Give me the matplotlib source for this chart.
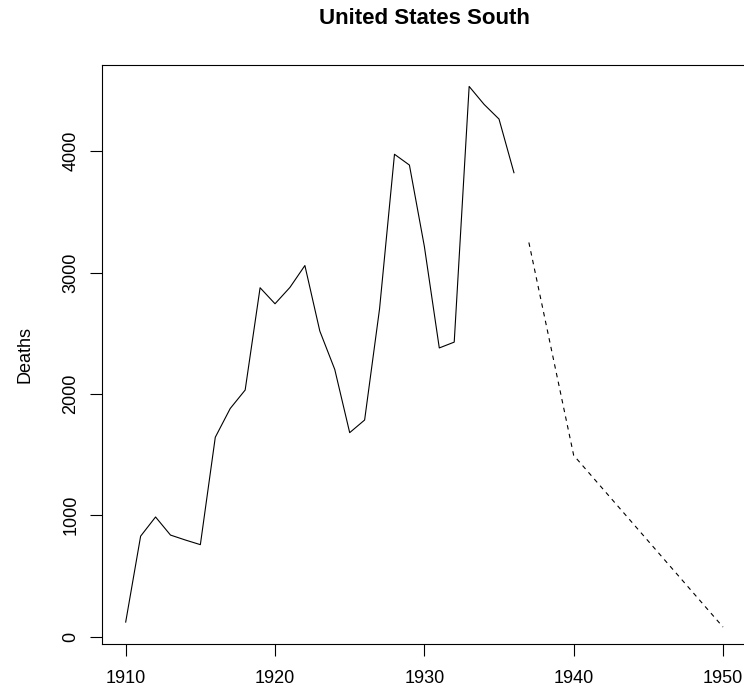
import matplotlib
matplotlib.use("Agg")
import matplotlib.pyplot as plt
import numpy as np

plt.rcParams['font.family'] = ['Liberation Sans', 'DejaVu Sans']

# Recorded lynching deaths, South region
years_obs = [1910, 1911, 1912, 1913, 1914, 1915, 1916, 1917, 1918, 1919,
             1920, 1921, 1922, 1923, 1924, 1925, 1926, 1927, 1928, 1929,
             1930, 1931, 1932, 1933, 1934, 1935, 1936]
deaths_obs = [120, 828, 986, 837, 796, 758, 1643, 1880, 2032, 2875,
              2743, 2878, 3058, 2518, 2202, 1681, 1785, 2701, 3975, 3886,
              3216, 2379, 2427, 4534, 4386, 4265, 3823]

# Projected trend (dashed)
years_proj = [1937, 1940, 1950]
deaths_proj = [3248, 1494, 79]

x_ticks = [1910, 1920, 1930, 1940, 1950]
y_ticks = [0, 1000, 2000, 3000, 4000]

W, H = 744, 687
fig = plt.figure(figsize=(W / 100, H / 100), dpi=100)

# plot region in pixels (R-style layout, right edge runs past the canvas)
left, right, top, bottom = 101.8, 746.9, 65.0, 643.5
ax = fig.add_axes([left / W, 1 - bottom / H, (right - left) / W, (bottom - top) / H])

ax.plot(years_obs, deaths_obs, color='black', lw=0.8)
ax.plot(years_proj, deaths_proj, color='black', lw=0.8, ls=(0, (4, 4)))

# R default 4% axis expansion
xmin, xmax = 1910, 1950
xr = xmax - xmin
ax.set_xlim(xmin - 0.04 * xr, xmax + 0.04 * xr)
ymin, ymax = min(deaths_obs), max(deaths_obs)
yr = ymax - ymin
ax.set_ylim(ymin - 0.04 * yr, ymax + 0.04 * yr)

ax.set_xticks(x_ticks)
ax.set_xticklabels([str(v) for v in x_ticks])
ax.set_yticks(y_ticks)
ax.set_yticklabels([str(v) for v in y_ticks], rotation=90, va='center')

for s in ax.spines.values():
    s.set_linewidth(0.8)
    s.set_color('black')

ax.tick_params(axis='both', length=8.6, width=0.8, labelsize=13, color='black')
ax.tick_params(axis='x', pad=10.5)
ax.tick_params(axis='y', pad=7.5)

ax.set_ylabel('Deaths', fontsize=13, labelpad=21)

fig.text((left + right) / 2 / W, 1 - 19 / H, 'United States South',
         ha='center', va='center', fontsize=16, fontweight='bold')

fig.savefig('out.png', dpi=100)
